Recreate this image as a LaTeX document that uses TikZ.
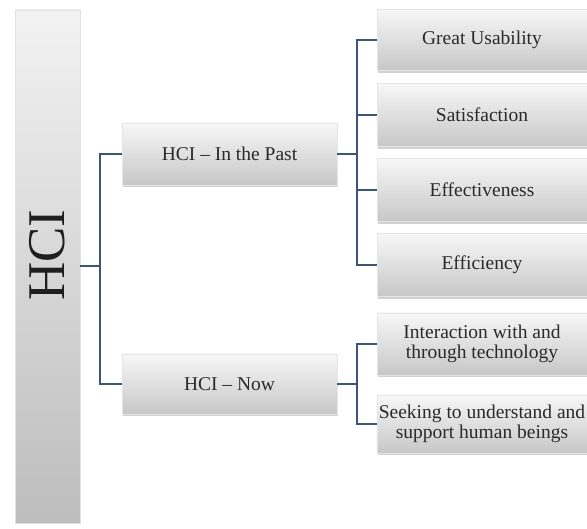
\documentclass[tikz,border=0pt]{standalone}
\usepackage{fontspec}
\setmainfont{Liberation Serif}
\usetikzlibrary{shadows}
\definecolor{conncol}{HTML}{3A5576}
\definecolor{txtcol}{HTML}{2A2A2A}
\tikzset{
  boxsty/.style={draw=black!10, line width=0.4pt, top color=white!97!black, bottom color=black!22,
    general shadow={fill=black, opacity=0.18, shadow xshift=1pt, shadow yshift=-2.5pt},
    text=txtcol, align=center, inner sep=2pt,
    font=\fontsize{19.5}{19.5}\selectfont},
  barsty/.style={draw=white!88!black, line width=0.6pt, top color=white!95!black, bottom color=black!26},
  conn/.style={draw=conncol, line width=2pt},
}
\begin{document}
\begin{tikzpicture}[x=1pt,y=-1pt]
\useasboundingbox (0,0) rectangle (587,529);
% main bar
\node[barsty, minimum width=65pt, minimum height=513pt, inner sep=0pt] (hci) at (47.5,266.5) {};
\node[rotate=90, text=black!88, font=\fontsize{53}{53}\selectfont] (hcit) at (47.5,255) {HCI};
% level 2
\node[boxsty, minimum width=215pt, minimum height=62pt] (past) at (229.5,154) {HCI -- In the Past};
\node[boxsty, minimum width=215pt, minimum height=60pt] (now) at (229.5,384) {HCI -- Now};
% level 3
\node[boxsty, minimum width=210pt, minimum height=61pt] (gu) at (482,40) {Great Usability};
\node[boxsty, minimum width=210pt, minimum height=63pt] (sat) at (482,115) {Satisfaction};
\node[boxsty, minimum width=210pt, minimum height=63pt] (eff) at (482,190) {Effectiveness};
\node[boxsty, minimum width=210pt, minimum height=63pt] (effi) at (482,265) {Efficiency};
\node[boxsty, minimum width=210pt, minimum height=62pt] (int) at (482,344) {Interaction with and\\through technology};
\node[boxsty, minimum width=210pt, minimum height=58pt] (seek) at (482,424) {Seeking to understand and\\support human beings};
% junctions
\coordinate (j1) at (100,266.5);
\coordinate (j2) at (357,154);
\coordinate (j3) at (357,384);
% connectors
\draw[conn] (hci.east) -- (j1);
\draw[conn] (past.west) -| (j1) |- (now.west);
\draw[conn] (past.east) -- (j2);
\draw[conn] (gu.west) -| (j2) |- (effi.west);
\draw[conn] (sat.west) -- (sat.west -| j2);
\draw[conn] (eff.west) -- (eff.west -| j2);
\draw[conn] (now.east) -- (j3);
\draw[conn] (int.west) -| (j3) |- (seek.west);
\end{tikzpicture}
\end{document}
